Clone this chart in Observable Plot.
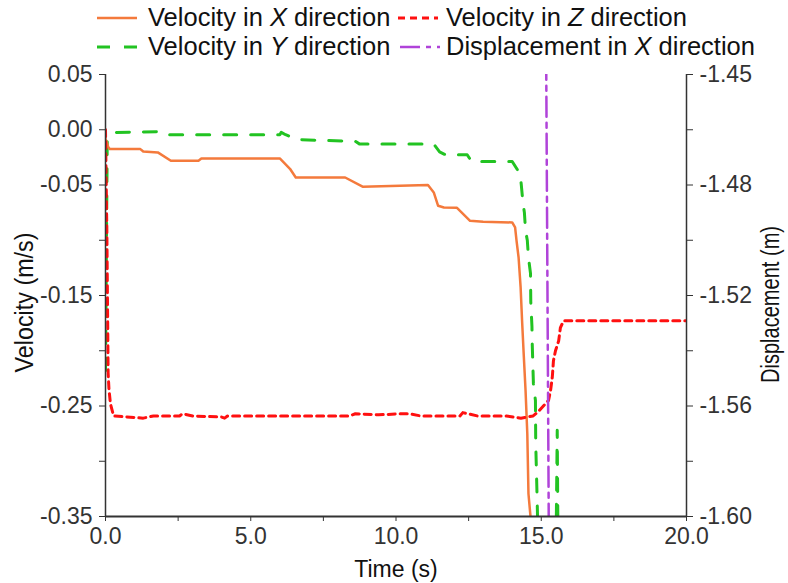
<!DOCTYPE html>
<html><head><meta charset="utf-8">
<script src="https://cdn.jsdelivr.net/npm/d3@7"></script>
<script src="https://cdn.jsdelivr.net/npm/@observablehq/plot@0.6"></script>
<style>
body{margin:0;background:#fff;}
#wrap{position:relative;width:788px;height:583px;font-family:Arial,"Liberation Sans",sans-serif;}
.leg{position:absolute;font-size:25.5px;color:#111;white-space:nowrap;line-height:1;}
.sw{position:absolute;overflow:visible;}
</style></head><body>
<div id="wrap"></div>
<script>
// ---- data ----
const timeVx = [0, 0.1, 0.15, 1.2, 1.3, 1.8, 2.25, 3.2, 3.3, 6.0, 6.35, 6.55, 8.25, 8.85, 11.1, 11.3, 11.45, 11.65, 12.1, 12.55, 13.0, 14.0, 14.1, 14.15, 14.22, 14.29, 14.34, 14.39, 14.46, 14.52, 14.56, 14.63, 14.7];
const velX   = [-0.008, -0.016, -0.0175, -0.0175, -0.0197, -0.0205, -0.028, -0.028, -0.026, -0.026, -0.0353, -0.0432, -0.0432, -0.0515, -0.050, -0.0567, -0.0688, -0.0703, -0.0706, -0.0824, -0.0833, -0.0839, -0.0884, -0.1005, -0.1156, -0.1427, -0.1729, -0.2, -0.2362, -0.2751, -0.3294, -0.35, -0.40];

const timeVy = [0, 0.06, 0.15, 0.3, 1.9, 2.1, 6.0, 6.05, 6.2, 6.6, 8.6, 8.75, 11.3, 11.5, 11.7, 12.45, 12.6, 14.0, 14.27, 14.31, 14.37, 14.42, 14.46, 14.52, 14.56, 14.63, 14.64, 14.68, 14.69, 14.73, 14.8, 14.81, 14.86, 14.88, 15.0, 15.5, 15.52, 15.55, 15.57, 15.6];
const velY   = [-0.218, -0.01, -0.006, -0.0025, -0.0018, -0.0045, -0.0045, -0.0024, -0.0045, -0.009, -0.0105, -0.013, -0.013, -0.020, -0.0226, -0.0226, -0.0287, -0.0287, -0.040, -0.049, -0.066, -0.075, -0.0915, -0.100, -0.1156, -0.130, -0.156, -0.178, -0.194, -0.230, -0.245, -0.284, -0.336, -0.36, -0.40, -0.40, -0.35, -0.272, -0.35, -0.40];

const timeVz = [0, 0.05, 0.09, 0.12, 0.17, 0.28, 1.3, 1.65, 2.55, 2.65, 3.0, 4.0, 4.1, 4.2, 8.4, 8.6, 9.4, 10.2, 10.45, 10.85, 12.2, 12.3, 12.8, 13.8, 14.3, 14.72, 14.9, 15.25, 15.32, 15.38, 15.42, 15.49, 15.6, 15.66, 15.77, 20];
const velZ   = [0.0, -0.10, -0.22, -0.235, -0.248, -0.259, -0.261, -0.259, -0.259, -0.257, -0.259, -0.260, -0.261, -0.259, -0.259, -0.257, -0.258, -0.257, -0.257, -0.259, -0.259, -0.256, -0.259, -0.259, -0.261, -0.259, -0.255, -0.245, -0.236, -0.224, -0.209, -0.200, -0.191, -0.179, -0.1729, -0.1729];

const timeDx = [15.17, 15.26];
const dispX  = [-1.445, -1.605];

const velTicks = [0.05, 0.0, -0.05, -0.10, -0.15, -0.20, -0.25, -0.30, -0.35];
const velTickLabels = ["0.05", "0.00", "-0.05", "", "-0.15", "", "-0.25", "", "-0.35"];
const dispTicks = [-1.45, -1.46875, -1.4875, -1.50625, -1.525, -1.54375, -1.5625, -1.58125, -1.60];
const dispTickLabels = ["-1.45", "", "-1.48", "", "-1.52", "", "-1.56", "", "-1.60"];
const timeTicks = [0, 2.5, 5, 7.5, 10, 12.5, 15, 17.5, 20];
const timeTickLabels = ["0.0", "", "5.0", "", "10.0", "", "15.0", "", "20.0"];

// ---- build ----
const dToV = d => -0.35 + (d + 1.60) / 0.15 * 0.4;
const zip = (a, b) => a.map((t, i) => ({t, v: b[i]}));
const lineX = zip(timeVx, velX), lineY = zip(timeVy, velY), lineZ = zip(timeVz, velZ);
const lineD = timeDx.map((t, i) => ({t, v: dToV(dispX[i])}));
const look = (ticks, labels) => d => { const i = ticks.findIndex(v => Math.abs(v - d) < 1e-6); return i < 0 ? "" : labels[i]; };
const dispTicksV = dispTicks.map(dToV);

const axisColor = "#333";
const plot = Plot.plot({
  width: 788, height: 583,
  marginLeft: 105, marginRight: 102, marginTop: 74, marginBottom: 67,
  x: {domain: [0, 20]},
  y: {domain: [-0.35, 0.05]},
  style: {fontFamily: "Arial, 'Liberation Sans', sans-serif", fontSize: "23px", color: axisColor, background: "white"},
  marks: [
    Plot.line(lineY, {x: "t", y: "v", stroke: "#22c322", strokeWidth: 3, strokeDasharray: "13,14", clip: true}),
    Plot.line(lineX, {x: "t", y: "v", stroke: "#f47a3c", strokeWidth: 2.5, clip: true}),
    Plot.line(lineZ, {x: "t", y: "v", stroke: "#ff1010", strokeWidth: 3, strokeDasharray: "7,5", clip: true}),
    Plot.line(lineD, {x: "t", y: "v", stroke: "#b043d9", strokeWidth: 2.5, strokeDasharray: "20,6,5,6", clip: true}),
    Plot.ruleX([0], {stroke: axisColor, strokeWidth: 1.5}),
    Plot.ruleX([20], {stroke: axisColor, strokeWidth: 1.5}),
    Plot.ruleY([-0.35], {stroke: axisColor, strokeWidth: 2}),
    Plot.axisY({anchor: "left", ticks: velTicks, tickFormat: look(velTicks, velTickLabels), tickSize: 6, tickPadding: 7, label: null}),
    Plot.axisY({anchor: "right", ticks: dispTicksV, tickFormat: look(dispTicksV, dispTickLabels), tickSize: 6, tickPadding: 7, label: null}),
    Plot.axisX({ticks: timeTicks, tickFormat: look(timeTicks, timeTickLabels), tickSize: 5, tickPadding: 6, label: null}),
    Plot.text(["Velocity (m/s)"], {text: d => d, frameAnchor: "left", textAnchor: "middle", lineAnchor: "middle", dx: -81, dy: 7, rotate: -90, fontSize: 26, fill: "#111"}),
    Plot.text(["Displacement (m)"], {text: d => d, frameAnchor: "right", textAnchor: "middle", lineAnchor: "middle", dx: 84, dy: 9, rotate: -90, fontSize: 25, fill: "#111"}),
    Plot.text(["Time (s)"], {text: d => d, frameAnchor: "bottom", textAnchor: "middle", lineAnchor: "middle", dy: 53, fontSize: 23, fill: "#111"})
  ]
});
// condense the rotated titles to the reference's lengths
plot.querySelectorAll("text").forEach(t => {
  if (t.textContent === "Velocity (m/s)") { t.setAttribute("textLength", 140); t.setAttribute("lengthAdjust", "spacingAndGlyphs"); }
  if (t.textContent === "Displacement (m)") { t.setAttribute("textLength", 157); t.setAttribute("lengthAdjust", "spacingAndGlyphs"); }
});
const wrap = document.getElementById("wrap");
wrap.appendChild(plot);

// ---- legend ----
const legendItems = [
  {html: "Velocity in <i>X</i> direction", color: "#f47a3c", dash: null, w: 2.5, sx: 97, tx: 148, y: 18},
  {html: "Velocity in <i>Z</i> direction", color: "#ff1010", dash: "7,5", w: 3, sx: 398, tx: 446, y: 18},
  {html: "Velocity in <i>Y</i> direction", color: "#22c322", dash: "13,14", w: 3, sx: 97, tx: 148, y: 47},
  {html: "Displacement in <i>X</i> direction", color: "#b043d9", dash: "20,6,5,6", w: 2.5, sx: 400, tx: 446, y: 47}
];
legendItems.forEach(it => {
  const s = document.createElementNS("http://www.w3.org/2000/svg", "svg");
  s.setAttribute("class", "sw"); s.setAttribute("width", 42); s.setAttribute("height", 10);
  s.style.left = it.sx + "px"; s.style.top = (it.y - 5) + "px";
  const l = document.createElementNS("http://www.w3.org/2000/svg", "line");
  l.setAttribute("x1", 0); l.setAttribute("x2", 40); l.setAttribute("y1", 5); l.setAttribute("y2", 5);
  l.setAttribute("stroke", it.color); l.setAttribute("stroke-width", it.w);
  if (it.dash) l.setAttribute("stroke-dasharray", it.dash);
  s.appendChild(l); wrap.appendChild(s);
  const d = document.createElement("div");
  d.className = "leg"; d.innerHTML = it.html;
  d.style.left = it.tx + "px"; d.style.top = (it.y - 13) + "px";
  wrap.appendChild(d);
});
</script>
</body></html>
